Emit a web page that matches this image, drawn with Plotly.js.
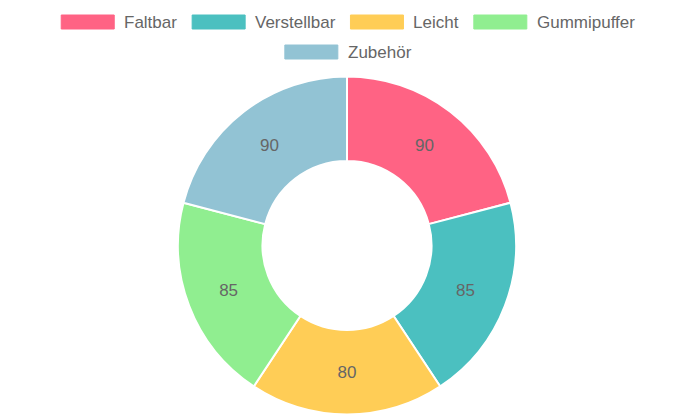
<!DOCTYPE html>
<html>
<head>
<meta charset="utf-8">
<script src="https://cdn.plot.ly/plotly-3.0.1.min.js"></script>
<style>
  html, body { margin: 0; padding: 0; background: #fff; }
  #chart { width: 695px; height: 417px; }
</style>
</head>
<body>
<div id="chart"></div>
<script>
const labels = ["Faltbar", "Verstellbar", "Leicht", "Gummipuffer", "Zubehör"];
const values = [90, 85, 80, 85, 90];
const colors = ["#FF6384", "#4BC0C0", "#FFCD56", "#90EE90", "#92C3D4"];

const W = 695, H = 417;
const FONT = "Liberation Sans, Arial, Helvetica, sans-serif";
const FS = 17;
const TEXT_COLOR = "#666666";

// legend layout (Chart.js-like)
const boxW = 53, boxH = 14, boxGap = 10, itemGap = 15, maxRow = 675;
const ctx = document.createElement("canvas").getContext("2d");
ctx.font = FS + "px 'Liberation Sans', Arial, sans-serif";
const items = labels.map((l, i) => ({ label: l, color: colors[i], tw: ctx.measureText(l).width }));
const rows = [];
let cur = [], curW = 0;
items.forEach(it => {
  const w = boxW + boxGap + it.tw;
  const add = cur.length ? itemGap + w : w;
  if (cur.length && curW + add > maxRow) { rows.push({ items: cur, w: curW }); cur = []; curW = 0; }
  curW += cur.length ? itemGap + w : w;
  cur.push(it);
});
if (cur.length) rows.push({ items: cur, w: curW });

const shapes = [], annotations = [];
const rowY0 = 15, rowStep = 30;
rows.forEach((row, r) => {
  let x = 348 - row.w / 2;
  const yTop = rowY0 + r * rowStep;
  row.items.forEach(it => {
    shapes.push({
      type: "rect", xref: "paper", yref: "paper",
      x0: x / W, x1: (x + boxW) / W,
      y0: 1 - (yTop + boxH) / H, y1: 1 - yTop / H,
      fillcolor: it.color, line: { color: it.color, width: 1 }, layer: "above"
    });
    annotations.push({
      xref: "paper", yref: "paper",
      x: (x + boxW + boxGap - 2) / W, y: 1 - (yTop + boxH / 2) / H,
      xanchor: "left", yanchor: "middle", showarrow: false,
      text: it.label, font: { family: FONT, size: FS, color: TEXT_COLOR }
    });
    x += boxW + boxGap + it.tw + itemGap;
  });
});

// pie geometry
const cx = 347, cy = 245.5, R = 169;

const trace = {
  type: "pie",
  labels: labels,
  values: values,
  sort: false,
  direction: "clockwise",
  rotation: 0,
  hole: 0.5,
  marker: { colors: colors, line: { color: "#ffffff", width: 2 } },
  texttemplate: "%{value}",
  textposition: "inside",
  insidetextorientation: "horizontal",
  textfont: { family: FONT, size: FS, color: TEXT_COLOR },
  hoverinfo: "none",
  showlegend: false,
  domain: {
    x: [(cx - R) / W, (cx + R) / W],
    y: [1 - (cy + R) / H, 1 - (cy - R) / H]
  }
};

const layout = {
  width: W, height: H,
  margin: { l: 0, r: 0, t: 0, b: 0 },
  paper_bgcolor: "#ffffff",
  plot_bgcolor: "#ffffff",
  showlegend: false,
  font: { family: FONT, color: TEXT_COLOR },
  shapes: shapes,
  annotations: annotations
};

Plotly.newPlot("chart", [trace], layout, { displayModeBar: false, staticPlot: true });
</script>
</body>
</html>
